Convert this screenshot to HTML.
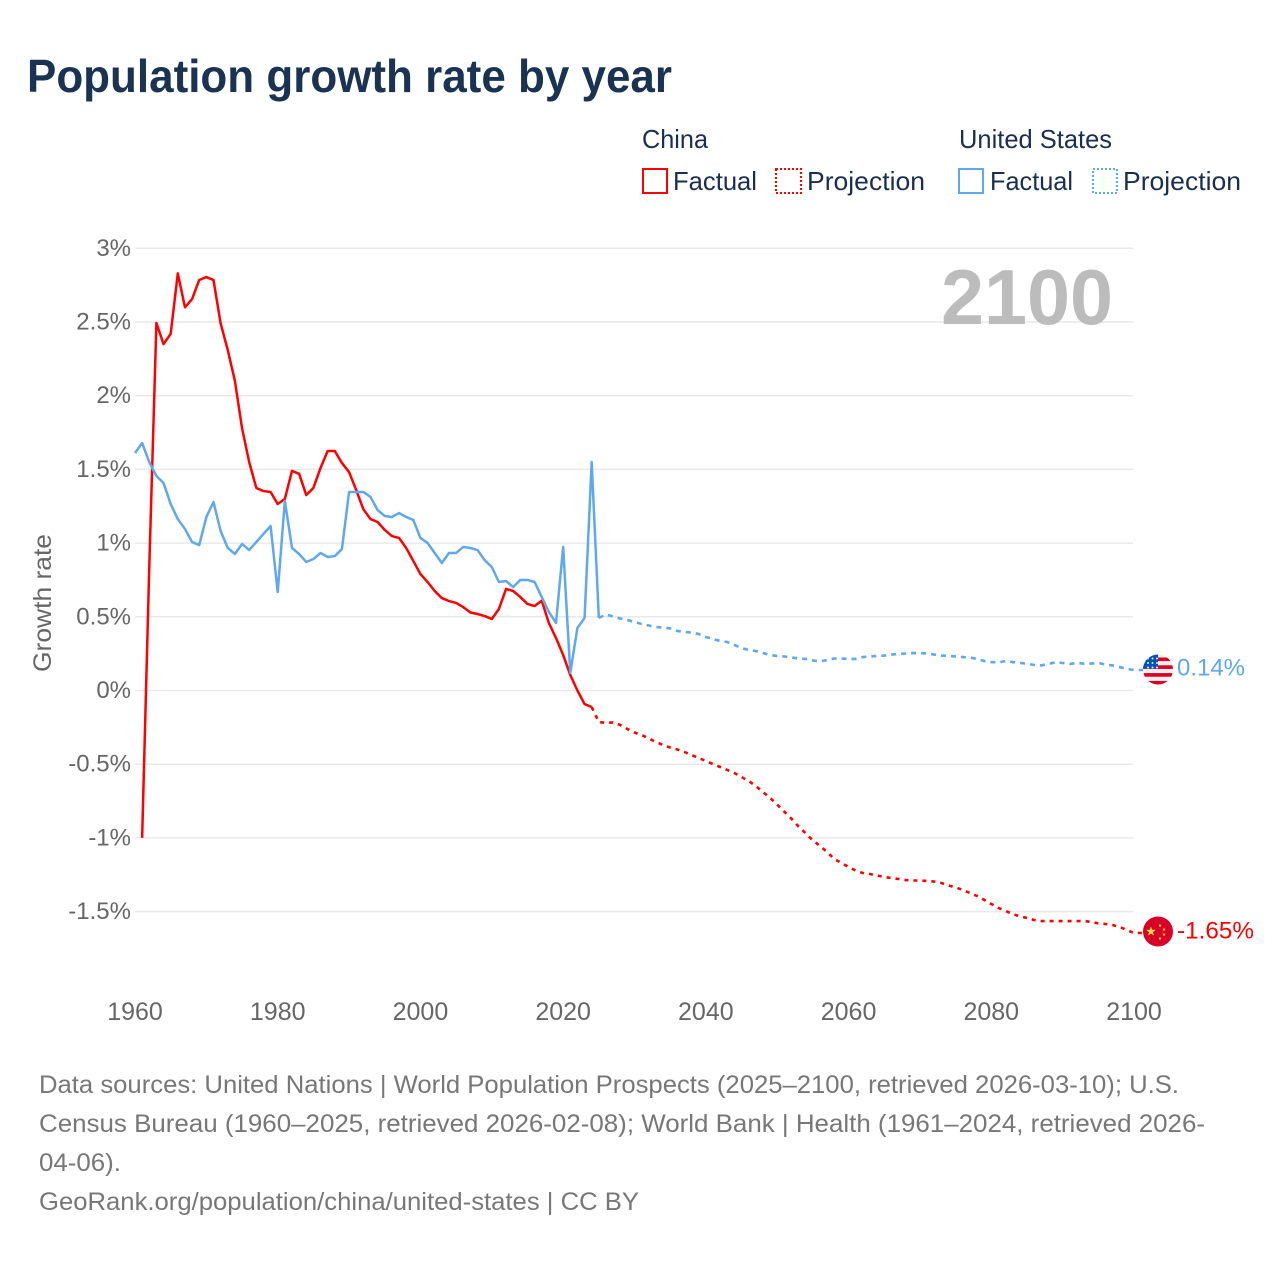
<!DOCTYPE html>
<html lang="en">
<head>
<meta charset="utf-8">
<title>Population growth rate by year</title>
<style>
html,body{margin:0;padding:0;background:#fff;}
svg{display:block;font-family:"Liberation Sans","DejaVu Sans",sans-serif;}
</style>
</head>
<body>
<svg id="chart" xmlns="http://www.w3.org/2000/svg" width="1280" height="1280" viewBox="0 0 1280 1280">
  <rect x="0" y="0" width="1280" height="1280" fill="#ffffff"/>
  <text x="27" y="92" font-size="46" font-weight="700" fill="#1a3352" textLength="645" lengthAdjust="spacingAndGlyphs">Population growth rate by year</text>

  <g font-size="26" fill="#1a2e50">
    <text x="642" y="148" textLength="66" lengthAdjust="spacingAndGlyphs">China</text>
    <text x="959" y="148" textLength="153" lengthAdjust="spacingAndGlyphs">United States</text>
    <rect x="643" y="169" width="24" height="24" fill="none" stroke="#ff0000" stroke-width="2"/>
    <text x="673" y="190" textLength="84" lengthAdjust="spacingAndGlyphs">Factual</text>
    <rect x="776" y="169" width="25" height="24" fill="none" stroke="#ff0000" stroke-width="2" stroke-dasharray="2 2"/>
    <text x="807" y="190" textLength="118" lengthAdjust="spacingAndGlyphs">Projection</text>
    <rect x="959" y="169" width="24" height="24" fill="none" stroke="#5fa8ee" stroke-width="2"/>
    <text x="990" y="190" textLength="83" lengthAdjust="spacingAndGlyphs">Factual</text>
    <rect x="1093" y="169" width="24" height="24" fill="none" stroke="#5fa8ee" stroke-width="2" stroke-dasharray="2 2"/>
    <text x="1123" y="190" textLength="118" lengthAdjust="spacingAndGlyphs">Projection</text>
  </g>

  <g id="grid"></g>
  <g id="yticks"></g>
  <g id="xticks"></g>
  <text x="941" y="324" font-size="78" font-weight="700" fill="#bcbcbc" textLength="172" lengthAdjust="spacingAndGlyphs">2100</text>
  <text transform="translate(51,672) rotate(-90)" font-size="25" fill="#666666" textLength="138" lengthAdjust="spacingAndGlyphs">Growth rate</text>
  <g id="series"></g>
  <g id="ends"></g>

  <g font-size="25" fill="#777777">
    <text x="39" y="1093" textLength="1140" lengthAdjust="spacingAndGlyphs">Data sources: United Nations | World Population Prospects (2025–2100, retrieved 2026-03-10); U.S.</text>
    <text x="39" y="1132" textLength="1166" lengthAdjust="spacingAndGlyphs">Census Bureau (1960–2025, retrieved 2026-02-08); World Bank | Health (1961–2024, retrieved 2026-</text>
    <text x="39" y="1171" textLength="82" lengthAdjust="spacingAndGlyphs">04-06).</text>
    <text x="39" y="1210" textLength="600" lengthAdjust="spacingAndGlyphs">GeoRank.org/population/china/united-states | CC BY</text>
  </g>
</svg>
<script>
const yTickValues = [3, 2.5, 2, 1.5, 1, 0.5, 0, -0.5, -1, -1.5];
const yTickLabels = ["3%", "2.5%", "2%", "1.5%", "1%", "0.5%", "0%", "-0.5%", "-1%", "-1.5%"];
const xTickYears = [1960, 1980, 2000, 2020, 2040, 2060, 2080, 2100];

const chinaFactualStart = 1961;
const chinaFactual = [-1.00,0.84,2.493,2.35,2.42,2.83,2.60,2.656,2.785,2.805,2.785,2.49,2.31,2.10,1.78,1.55,1.374,1.353,1.347,1.265,1.30,1.49,1.47,1.326,1.374,1.51,1.625,1.625,1.543,1.482,1.36,1.23,1.163,1.143,1.089,1.048,1.035,0.967,0.879,0.79,0.736,0.675,0.627,0.607,0.594,0.566,0.529,0.519,0.505,0.485,0.553,0.689,0.675,0.634,0.587,0.573,0.609,0.458,0.356,0.241,0.105,0.0,-0.092,-0.112];

const chinaProjectionStart = 2024;
const chinaProjection = [-0.112,-0.214,-0.22,-0.217,-0.234,-0.261,-0.285,-0.302,-0.326,-0.349,-0.37,-0.387,-0.40,-0.417,-0.438,-0.458,-0.478,-0.499,-0.519,-0.539,-0.56,-0.587,-0.614,-0.648,-0.689,-0.729,-0.775,-0.822,-0.87,-0.923,-0.97,-1.017,-1.055,-1.096,-1.143,-1.17,-1.197,-1.222,-1.238,-1.245,-1.255,-1.265,-1.272,-1.279,-1.286,-1.289,-1.289,-1.292,-1.296,-1.306,-1.322,-1.336,-1.353,-1.374,-1.394,-1.42,-1.448,-1.475,-1.496,-1.516,-1.533,-1.543,-1.557,-1.564,-1.564,-1.564,-1.564,-1.564,-1.564,-1.564,-1.57,-1.58,-1.584,-1.591,-1.604,-1.625,-1.645];

const usFactualStart = 1960;
const usFactual = [1.611,1.679,1.55,1.455,1.408,1.265,1.163,1.096,1.007,0.987,1.177,1.279,1.082,0.967,0.926,0.994,0.953,1.007,1.062,1.116,0.668,1.286,0.967,0.926,0.872,0.892,0.933,0.906,0.912,0.96,1.347,1.347,1.347,1.313,1.224,1.184,1.177,1.204,1.177,1.157,1.035,1.001,0.933,0.865,0.933,0.933,0.974,0.967,0.953,0.885,0.838,0.736,0.743,0.702,0.75,0.75,0.736,0.634,0.533,0.458,0.974,0.12,0.424,0.492,1.55,0.492];

const usProjectionStart = 2025;
const usProjection = [0.492,0.516,0.502,0.488,0.478,0.465,0.451,0.441,0.431,0.427,0.421,0.404,0.397,0.393,0.383,0.363,0.349,0.336,0.329,0.309,0.288,0.275,0.268,0.254,0.241,0.234,0.231,0.224,0.217,0.214,0.204,0.197,0.207,0.217,0.217,0.214,0.214,0.227,0.231,0.234,0.237,0.244,0.248,0.251,0.254,0.254,0.251,0.244,0.237,0.234,0.231,0.227,0.224,0.214,0.200,0.193,0.19,0.2,0.193,0.187,0.182,0.173,0.17,0.18,0.191,0.187,0.18,0.187,0.182,0.183,0.187,0.176,0.17,0.159,0.146,0.139];

const endLabelUS = "0.14%";
const endLabelChina = "-1.65%";

const NS = "http://www.w3.org/2000/svg";
const RED = "#ff0000";
const BLUE = "#5fa8ee";

function xScale(year) { return 135 + (year - 1960) * (999 / 140); }
function yScale(value) { return 690.5 - value * 147.4; }

function make(tag, attrs) {
  const el = document.createElementNS(NS, tag);
  for (const k in attrs) el.setAttribute(k, attrs[k]);
  return el;
}
function linePath(start, values) {
  return values.map((v, i) => (i ? "L" : "M") + xScale(start + i).toFixed(2) + " " + yScale(v).toFixed(2)).join(" ");
}

const grid = document.getElementById("grid");
const yticks = document.getElementById("yticks");
yTickValues.forEach((v, i) => {
  const gl = make("line", {x1: 135, x2: 1133, y1: yScale(v), y2: yScale(v), stroke: "#e9e9e9", "stroke-width": 1.5});
  
  
  grid.appendChild(gl);
  const t = make("text", {x: 131, y: yScale(v) + 7.5, "text-anchor": "end", "font-size": 24, fill: "#666666"});
  
  
  t.textContent = yTickLabels[i];
  yticks.appendChild(t);
});

const xticks = document.getElementById("xticks");
xTickYears.forEach((yr) => {
  const t = make("text", {x: xScale(yr), y: 1020, "text-anchor": "middle", "font-size": 25, fill: "#666666"});
  
  
  t.textContent = yr;
  xticks.appendChild(t);
});

const series = document.getElementById("series");
const flagX = 1158;
const flagR = 15;

const chinaFactualLine = make("path", {d: linePath(chinaFactualStart, chinaFactual), fill: "none", stroke: RED, "stroke-width": 2.5, "stroke-linejoin": "round"});



const usProjectionLine = make("path", {d: linePath(usProjectionStart, usProjection) + " L" + (flagX - flagR) + " " + yScale(usProjection[usProjection.length - 1]).toFixed(2), fill: "none", stroke: BLUE, "stroke-width": 2.6, "stroke-dasharray": "5 5"});



const chinaProjectionLine = make("path", {d: linePath(chinaProjectionStart, chinaProjection) + " L" + (flagX - flagR) + " " + yScale(chinaProjection[chinaProjection.length - 1]).toFixed(2), fill: "none", stroke: RED, "stroke-width": 2.6, "stroke-dasharray": "4 5"});



const usFactualLine = make("path", {d: linePath(usFactualStart, usFactual), fill: "none", stroke: BLUE, "stroke-width": 2.5, "stroke-linejoin": "round"});



series.appendChild(chinaFactualLine);
series.appendChild(chinaProjectionLine);
series.appendChild(usFactualLine);
series.appendChild(usProjectionLine);

const ends = document.getElementById("ends");
const usY = yScale(usProjection[usProjection.length - 1]) - 0.5;
const cnY = yScale(chinaProjection[chinaProjection.length - 1]) - 1.5;

const defs = make("defs", {});
const clipUS = make("clipPath", {id: "clip-us"});
clipUS.appendChild(make("circle", {cx: flagX, cy: usY, r: flagR}));
defs.appendChild(clipUS);
ends.appendChild(defs);

const usFlag = make("g", {"clip-path": "url(#clip-us)"});


usFlag.appendChild(make("rect", {x: flagX - flagR, y: usY - flagR, width: 2 * flagR, height: 2 * flagR, fill: "#eeeeee"}));
for (let k = 0; k < 4; k++) {
  usFlag.appendChild(make("rect", {x: flagX - flagR, y: usY - flagR + 3 + k * 7.8, width: 2 * flagR, height: 3.6, fill: "#d80027"}));
}
usFlag.appendChild(make("rect", {x: flagX - flagR, y: usY - flagR, width: 15, height: 14, fill: "#0052b4"}));
for (let r = 0; r < 3; r++) {
  for (let c = 0; c < 3; c++) {
    usFlag.appendChild(make("circle", {cx: flagX - 10 + c * 4.5, cy: usY - 11 + r * 4.5, r: 1, fill: "#eeeeee"}));
  }
}
ends.appendChild(usFlag);

const cnFlag = make("g", {});


cnFlag.appendChild(make("circle", {cx: flagX, cy: cnY, r: flagR, fill: "#d80027"}));
function star(cx, cy, r) {
  let pts = [];
  for (let i = 0; i < 10; i++) {
    const a = -Math.PI / 2 + i * Math.PI / 5;
    const rr = i % 2 ? r * 0.42 : r;
    pts.push((cx + rr * Math.cos(a)).toFixed(2) + "," + (cy + rr * Math.sin(a)).toFixed(2));
  }
  return make("polygon", {points: pts.join(" "), fill: "#ffda44"});
}
cnFlag.appendChild(star(flagX - 7, cnY, 5));
cnFlag.appendChild(star(flagX + 2, cnY - 6, 1.8));
cnFlag.appendChild(star(flagX + 6, cnY - 2, 1.8));
cnFlag.appendChild(star(flagX + 6, cnY + 3, 1.8));
cnFlag.appendChild(star(flagX + 2, cnY + 7, 1.8));
ends.appendChild(cnFlag);

const usEnd = make("text", {x: 1177, y: usY + 6, "font-size": 24.5, fill: BLUE, textLength: 68, lengthAdjust: "spacingAndGlyphs"});


usEnd.textContent = endLabelUS;
ends.appendChild(usEnd);

const cnEnd = make("text", {x: 1177, y: cnY + 7, "font-size": 24.5, fill: RED, textLength: 77, lengthAdjust: "spacingAndGlyphs"});


cnEnd.textContent = endLabelChina;
ends.appendChild(cnEnd);
</script>
</body>
</html>
